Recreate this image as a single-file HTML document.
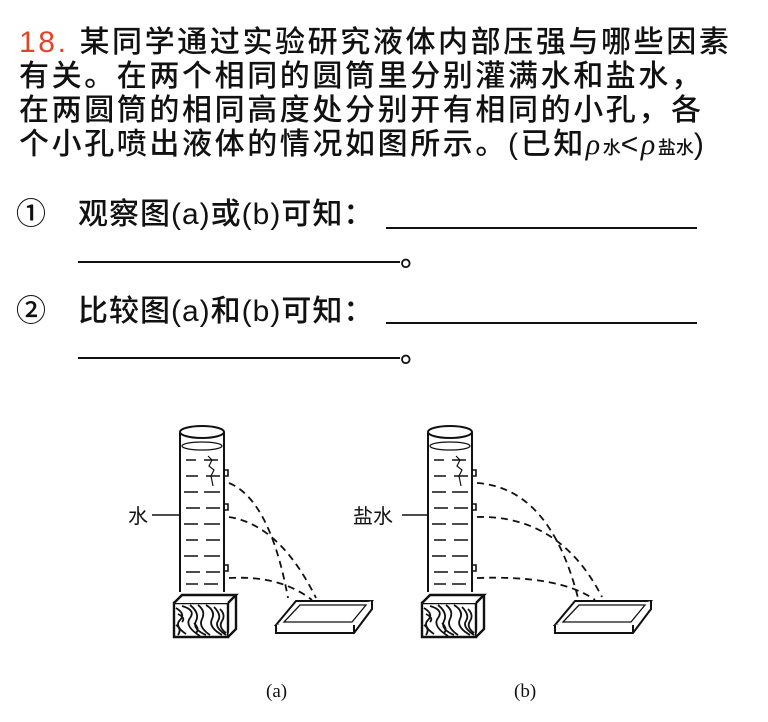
<!DOCTYPE html>
<html><head><meta charset="utf-8"><style>
html,body{margin:0;padding:0;background:#fff;width:768px;height:722px;overflow:hidden}
.t{position:absolute;font-family:"Liberation Sans","Noto Sans CJK SC",sans-serif;font-size:30px;letter-spacing:2.6px;font-weight:500;color:#111;white-space:nowrap;line-height:34px}
.o{letter-spacing:1px}
.r{color:#e0452a}
.ul{position:absolute;height:0;border-top:2px solid #111}
</style></head><body>
<div class="t" style="left:19px;top:26px">
<span class="r">18.</span> 某同学通过实验研究液体内部压强与哪些因素<br>有关。在两个相同的圆筒里分别灌满水和盐水，<br>在两圆筒的相同高度处分别开有相同的小孔，各<br>个小孔喷出液体的情况如图所示。(已知<i style="font-family:'Liberation Serif',serif">ρ</i><span style="font-size:18px;letter-spacing:0">水</span>&lt;<i style="font-family:'Liberation Serif',serif">ρ</i><span style="font-size:18px;letter-spacing:0">盐水</span>)
</div>
<div class="t o" style="left:16px;top:198px">①</div>
<div class="t o" style="left:78px;top:198px">观察图(a)或(b)可知：</div>
<div class="ul" style="left:386px;width:311px;top:227px"></div>
<div class="ul" style="left:78px;width:322px;top:261px"></div>
<div class="t o" style="left:400px;top:240px">。</div>
<div class="t o" style="left:16px;top:295px">②</div>
<div class="t o" style="left:78px;top:295px">比较图(a)和(b)可知：</div>
<div class="ul" style="left:386px;width:311px;top:322px"></div>
<div class="ul" style="left:78px;width:322px;top:357px"></div>
<div class="t o" style="left:400px;top:336px">。</div>

<svg style="position:absolute;left:0;top:0" width="768" height="722" xmlns="http://www.w3.org/2000/svg">
<defs>
<g id="cyl" fill="none" stroke="#111" stroke-width="2">
  <ellipse cx="22" cy="12" rx="22" ry="6" fill="#fff"/>
  <ellipse cx="22" cy="26" rx="20" ry="4" stroke-width="1.3"/>
  <line x1="0" y1="12" x2="0" y2="172"/>
  <line x1="44" y1="12" x2="44" y2="172"/>
  <g stroke-width="1.6">
   <path d="M6 40h10M24 40h14M6 56h12M26 56h14M4 72h14M24 72h16M6 88h14M26 88h14M4 104h14M24 104h16M6 120h12M26 120h14M4 136h14M24 136h16M6 152h14M26 152h14M6 164h12M24 164h14"/>
  </g>
  <path d="M28 36l4 4-3 6 5 4-3 6 2 10" stroke-width="1.2"/>
  <path d="M44 50h4v6h-4M44 84h4v6h-4M44 145h4v6h-4" stroke-width="1.6"/>
  <path d="M-6 183h54v34h-54z" fill="#fff" stroke-width="2.4"/>
  <path d="M-6 183l8-8h54l-8 8M56 175v34l-8 8" fill="#fff" stroke-width="2.4"/>
  <g stroke-width="1.8">
   <path d="M-4 188q10 6 4 12t6 14M2 186q14 4 8 12t10 18M10 185q10 8 6 16t10 14M18 185q8 6 4 14t8 16M26 185q10 6 6 14t10 16M34 187q8 8 4 14t8 14M-4 205q6 4 2 10M40 189q6 6 2 12t4 12M-2 194q8 4 4 8M14 203q6 6 2 10"/>
  </g>
</g>
</defs>
<use href="#cyl" x="180" y="420"/>
<use href="#cyl" x="428" y="420"/>
<g fill="none" stroke="#111" stroke-width="1.8" stroke-dasharray="7,5">
 <path d="M229 483 Q270 500 288 598"/>
 <path d="M229 517 Q280 525 316 598"/>
 <path d="M229 578 Q280 575 312 600"/>
 <path d="M477 483 Q550 488 578 598"/>
 <path d="M477 517 Q560 515 602 597"/>
 <path d="M477 578 Q560 575 595 600"/>
</g>
<g fill="#fff" stroke="#111" stroke-width="2">
 <path d="M296 601h76l-18 24h-78z"/><path d="M276 625v8h78l18-24v-8M354 625v8"/>
 <path d="M300 605h66l-14 17h-68z" stroke-width="1.3"/>
 <path d="M575 601h76l-18 24h-78z"/><path d="M555 625v8h78l18-24v-8M633 625v8"/>
 <path d="M579 605h66l-14 17h-68z" stroke-width="1.3"/>
</g>
<line x1="152" y1="515" x2="180" y2="515" stroke="#111" stroke-width="1.6"/>
<line x1="402" y1="515" x2="428" y2="515" stroke="#111" stroke-width="1.6"/>
<text x="128" y="523" font-family="Liberation Sans,Noto Sans CJK SC,sans-serif" font-size="20" fill="#111">水</text>
<text x="353" y="523" font-family="Liberation Sans,Noto Sans CJK SC,sans-serif" font-size="20" fill="#111">盐水</text>
<text x="266" y="697" font-family="Liberation Serif,serif" font-size="19" fill="#111">(a)</text>
<text x="514" y="697" font-family="Liberation Serif,serif" font-size="19" fill="#111">(b)</text>
</svg>
</body></html>
